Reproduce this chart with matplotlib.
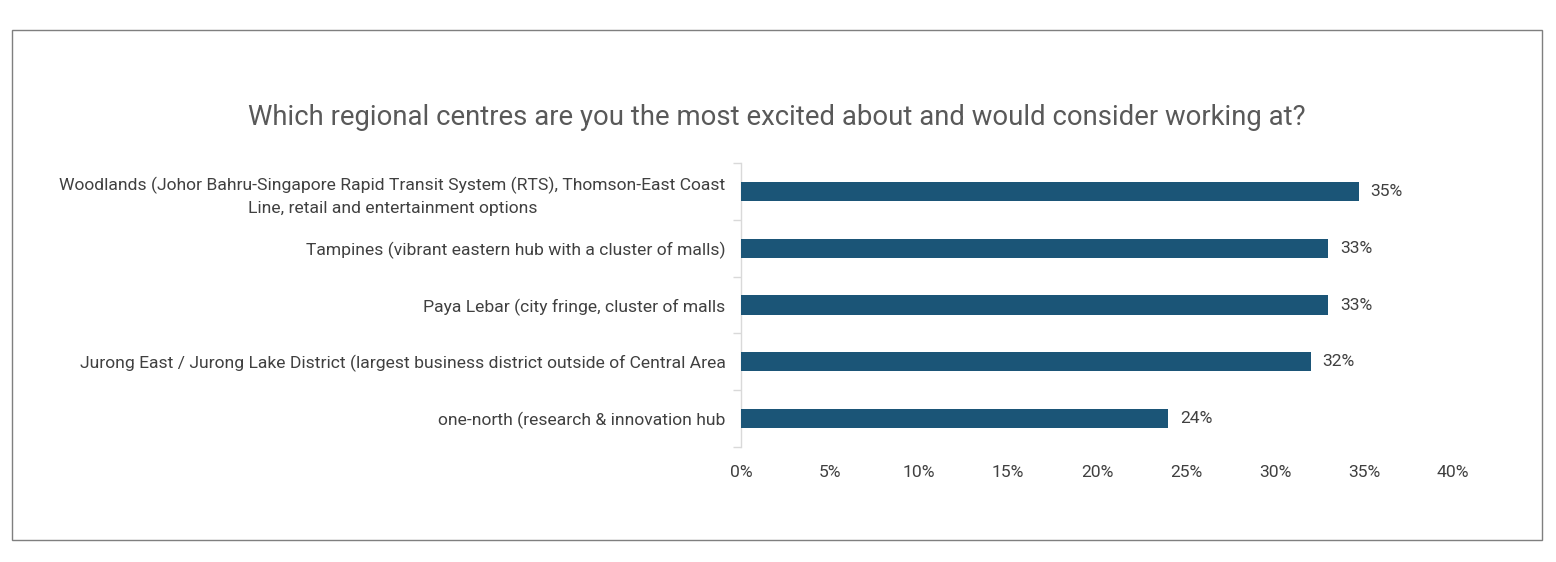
import matplotlib
matplotlib.use("Agg")
import matplotlib.pyplot as plt
from matplotlib.patches import Rectangle

categories = [
    "Woodlands (Johor Bahru-Singapore Rapid Transit System (RTS), Thomson-East Coast\nLine, retail and entertainment options",
    "Tampines (vibrant eastern hub with a cluster of malls)",
    "Paya Lebar (city fringe, cluster of malls",
    "Jurong East / Jurong Lake District (largest business district outside of Central Area",
    "one-north (research & innovation hub",
]
values = [0.347, 0.330, 0.330, 0.320, 0.240]
xticks = [0.0, 0.05, 0.10, 0.15, 0.20, 0.25, 0.30, 0.35, 0.40]
xtick_labels = ["0%", "5%", "10%", "15%", "20%", "25%", "30%", "35%", "40%"]
title = "Which regional centres are you the most excited about and would consider working at?"

plt.rcParams["font.family"] = ["Roboto", "DejaVu Sans"]

text_color = "#404040"
bar_color = "#1B5577"
fs = 12.6

fig = plt.figure(figsize=(15.56, 5.62), dpi=100)
ax = fig.add_axes([0.4762, 0.2046, 0.4576, 0.5053])

y = list(range(len(categories)))
ax.barh(y, values, height=0.34, color=bar_color, zorder=3)
for yi, v in zip(y, values):
    ax.text(v + 0.0065, yi, f"{v*100:.0f}%", va="center", ha="left",
            fontsize=fs, color=text_color)

ax.set_ylim(len(categories) - 0.5, -0.5)
ax.set_xlim(0, 0.40)
ax.set_xticks(xticks)
ax.set_xticklabels(xtick_labels, fontsize=fs, color=text_color)
ax.set_yticks(y)
ax.set_yticklabels(categories, fontsize=fs, color=text_color, multialignment="center",
                   linespacing=1.55)
ax.tick_params(axis="x", length=0, pad=13)
ax.tick_params(axis="y", length=0, pad=11)
ax.set_yticks([i - 0.5 for i in range(len(categories) + 1)], minor=True)
ax.tick_params(axis="y", which="minor", length=6, color="#D9D9D9", width=1)

for s in ["top", "right", "bottom"]:
    ax.spines[s].set_visible(False)
ax.spines["left"].set_color("#D9D9D9")
ax.spines["left"].set_linewidth(1)

fig.text(0.4994, 1 - 117 / 562, title, ha="center", va="center",
         fontsize=19.8, color="#595959")

fig.patches.append(Rectangle((12 / 1556, 1 - 540 / 562), (1542 - 12) / 1556, (540 - 30) / 562,
                             transform=fig.transFigure, fill=False,
                             edgecolor="#7F7F7F", linewidth=1))

fig.savefig("out.png", dpi=100)
